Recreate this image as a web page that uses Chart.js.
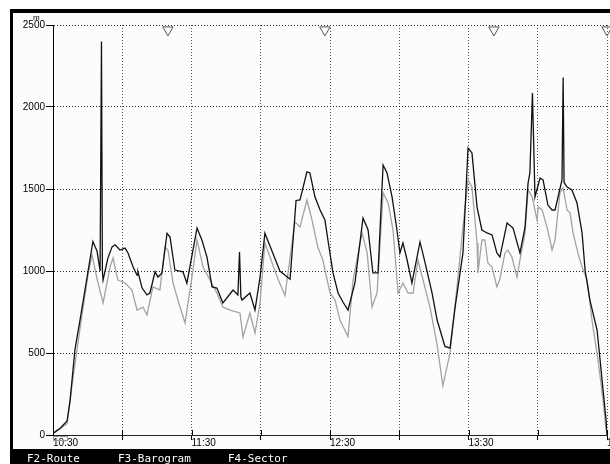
<!DOCTYPE html>
<html>
<head>
<meta charset="utf-8">
<script src="https://cdn.jsdelivr.net/npm/chart.js@4/dist/chart.umd.min.js"></script>
<style>
  html, body { margin: 0; padding: 0; background: #fff; }
  #wrap { width: 610px; height: 464px; overflow: hidden; position: relative; }
  canvas { position: absolute; left: 0; top: 0; }
</style>
</head>
<body>
<div id="wrap"><canvas id="baro" width="640" height="464"></canvas></div>
<script>
// time in minutes after midnight, altitude in m
const blackTime = [630.0, 633.0, 636.1, 637.4, 639.5, 641.7, 645.2, 647.3, 649.1, 650.4, 651.0, 651.4, 651.7, 653.8, 655.6, 656.9, 659.0, 661.2, 662.5, 664.7, 666.4, 666.8, 668.6, 670.7, 672.0, 674.2, 675.5, 677.2, 679.4, 680.7, 682.8, 686.3, 688.0, 692.4, 694.5, 696.7, 698.9, 701.0, 703.6, 708.0, 710.1, 710.8, 711.4, 711.9, 715.3, 717.5, 719.7, 721.8, 724.9, 728.3, 732.7, 735.3, 737.0, 740.0, 741.3, 743.5, 745.7, 747.8, 749.1, 751.3, 753.5, 755.6, 757.8, 760.8, 764.3, 766.5, 768.6, 770.8, 773.0, 774.7, 776.9, 779.0, 780.3, 781.6, 783.4, 785.5, 789.0, 791.2, 794.2, 796.4, 799.8, 802.0, 804.2, 807.6, 809.8, 811.5, 813.7, 815.8, 818.0, 820.2, 822.3, 823.6, 826.7, 829.3, 832.3, 834.5, 835.8, 836.6, 837.7, 838.8, 841.0, 842.3, 844.4, 846.2, 847.5, 850.5, 851.0, 851.4, 852.7, 854.8, 857.0, 859.2, 860.5, 862.6, 865.7, 867.0, 868.3, 869.6, 870.0];
const blackAlt = [10, 40, 85, 210, 520, 700, 1000, 1180, 1120, 1000, 2400, 1000, 945, 1080, 1147, 1160, 1128, 1140, 1110, 1024, 975, 995, 896, 854, 866, 995, 963, 988, 1230, 1207, 1006, 995, 926, 1262, 1189, 1085, 903, 896, 805, 884, 854, 1115, 840, 823, 866, 762, 963, 1230, 1120, 1000, 950, 1430, 1433, 1604, 1598, 1451, 1372, 1311, 1189, 988, 866, 811, 762, 927, 1323, 1250, 988, 988, 1646, 1598, 1451, 1250, 1110, 1171, 1067, 927, 1177, 1049, 866, 701, 540, 530, 780, 1110, 1750, 1720, 1390, 1250, 1232, 1220, 1110, 1085, 1293, 1262, 1110, 1268, 1536, 1598, 2085, 1451, 1567, 1555, 1402, 1372, 1372, 1555, 2180, 1540, 1512, 1494, 1415, 1232, 1006, 823, 640, 457, 274, 91, 0];

const grayTime = [630.0, 636.1, 638.2, 641.7, 645.2, 646.9, 649.1, 651.7, 654.7, 656.0, 658.1, 661.2, 664.2, 666.4, 669.0, 670.7, 673.3, 676.3, 678.5, 679.8, 682.0, 684.1, 687.2, 690.2, 692.4, 695.0, 698.0, 701.0, 703.6, 706.7, 711.0, 712.3, 715.3, 717.5, 719.7, 721.8, 727.5, 730.5, 734.8, 737.0, 740.0, 742.2, 744.7, 746.9, 750.0, 752.2, 754.3, 757.8, 760.0, 763.9, 766.1, 768.2, 770.4, 773.0, 775.2, 777.3, 779.5, 781.6, 783.8, 786.0, 788.1, 790.3, 793.3, 796.4, 798.9, 802.0, 805.0, 807.6, 809.8, 811.5, 813.7, 814.1, 815.8, 817.1, 818.4, 820.2, 822.3, 823.6, 825.8, 827.1, 828.8, 831.0, 832.3, 834.5, 835.8, 837.6, 839.7, 840.2, 841.9, 844.0, 845.3, 846.2, 847.5, 849.6, 851.0, 852.7, 854.0, 855.3, 857.4, 859.2, 861.4, 863.5, 866.1, 868.3, 869.6];
const grayAlt = [10, 70, 300, 650, 980, 1098, 950, 805, 1024, 1079, 945, 927, 884, 762, 780, 732, 903, 884, 1146, 1128, 927, 823, 683, 963, 1189, 1024, 945, 866, 780, 762, 744, 598, 744, 622, 805, 1170, 950, 850, 1300, 1268, 1433, 1311, 1146, 1067, 866, 823, 701, 600, 945, 1232, 1110, 780, 866, 1476, 1415, 1250, 866, 927, 866, 866, 1067, 945, 780, 550, 300, 500, 900, 1268, 1555, 1512, 1171, 988, 1189, 1189, 1049, 1024, 903, 950, 1110, 1128, 1085, 963, 1067, 1232, 1494, 1451, 1311, 1390, 1372, 1268, 1189, 1128, 1189, 1476, 1506, 1372, 1353, 1232, 1110, 1024, 945, 700, 457, 213, 30];

// turnpoint markers along the top
const turnTime = [679.8, 747.8, 821.0, 870.0];
const turnAlt = 2470;

const hourLabels = ['10:30', '11:30', '12:30', '13:30', '14:30'];
const menuLabels = ['F2-Route', 'F3-Barogram', 'F4-Sector'];

const pts = (ts, vs) => ts.map((t, i) => ({ x: t, y: vs[i] }));

const screen = {
  id: 'screen',
  beforeDraw(chart) {
    const c = chart.ctx;
    c.save();
    c.fillStyle = '#fff';
    c.fillRect(0, 0, chart.width, chart.height);
    c.fillStyle = '#fcfcfc';
    c.fillRect(13, 13, chart.width, 436);
    c.restore();
  },
  afterDraw(chart) {
    const c = chart.ctx;
    const x = chart.scales.x, y = chart.scales.y;
    c.save();
    // upper part of the time ticks
    c.strokeStyle = '#000';
    c.lineWidth = 1;
    x.ticks.forEach(t => {
      const px = Math.round(x.getPixelForValue(t.value)) + 0.5;
      c.beginPath();
      c.moveTo(px, y.bottom - 5);
      c.lineTo(px, y.bottom);
      c.stroke();
    });
    // small start marker under the axis
    c.strokeStyle = '#999';
    const s0 = Math.round(x.getPixelForValue(630)) + 0.5;
    const s1 = Math.round(x.getPixelForValue(636.2)) + 0.5;
    c.strokeRect(s0, y.bottom + 1.5, s1 - s0, 4);
    // unit
    c.fillStyle = '#000';
    c.font = '8px "Liberation Sans"';
    c.textAlign = 'left';
    c.textBaseline = 'alphabetic';
    c.fillText('m', 33, 20);
    // frame
    c.fillRect(10, 9, chart.width, 4);
    c.fillRect(10, 9, 3, 442);
    c.fillRect(10, 449, chart.width, 15);
    // menu line
    c.fillStyle = '#fff';
    c.font = '11px "DejaVu Sans Mono"';
    const menuX = [27, 118, 228];
    menuLabels.forEach((m, i) => c.fillText(m, menuX[i], 462));
    c.restore();
  }
};

new Chart(document.getElementById('baro'), {
  type: 'line',
  data: {
    datasets: [
      {
        data: pts(turnTime, turnTime.map(() => turnAlt)),
        showLine: false,
        pointStyle: 'triangle',
        rotation: 180,
        pointRadius: 6,
        borderColor: '#555',
        backgroundColor: 'rgba(0,0,0,0)',
        borderWidth: 1,
        clip: false,
      },
      {
        data: pts(blackTime, blackAlt),
        borderColor: '#111',
        borderWidth: 1.3,
        pointRadius: 0,
        tension: 0,
      },
      {
        data: pts(grayTime, grayAlt),
        borderColor: '#a3a3a3',
        borderWidth: 1.3,
        pointRadius: 0,
        tension: 0,
      },
    ],
  },
  options: {
    responsive: false,
    animation: false,
    layout: { padding: { left: 0, top: 25, right: 33, bottom: 0 } },
    plugins: { legend: { display: false }, tooltip: { enabled: false } },
    scales: {
      x: {
        type: 'linear',
        min: 630,
        max: 870,
        afterFit: (s) => { s.height = 29; },
        grid: { color: '#555', tickColor: '#000', tickLength: 5 },
        border: { color: '#222', width: 1, dash: [1, 2] },
        ticks: {
          stepSize: 30,
          autoSkip: false,
          maxRotation: 0,
          align: 'start',
          padding: -3,
          color: '#000',
          font: { size: 10, family: 'Liberation Sans' },
          callback: (v) => ((v - 630) % 60 === 0 ? hourLabels[(v - 630) / 60] : ''),
        },
      },
      y: {
        min: 0,
        max: 2500,
        afterFit: (s) => { s.width = 53; },
        grid: { color: '#222', tickColor: '#000', tickLength: 7 },
        border: { color: '#000', width: 1, dash: [1, 2] },
        ticks: {
          stepSize: 500,
          padding: 1,
          color: '#000',
          font: { size: 10, family: 'Liberation Sans' },
          callback: (v) => String(v),
        },
      },
    },
  },
  plugins: [screen],
});
</script>
</body>
</html>
